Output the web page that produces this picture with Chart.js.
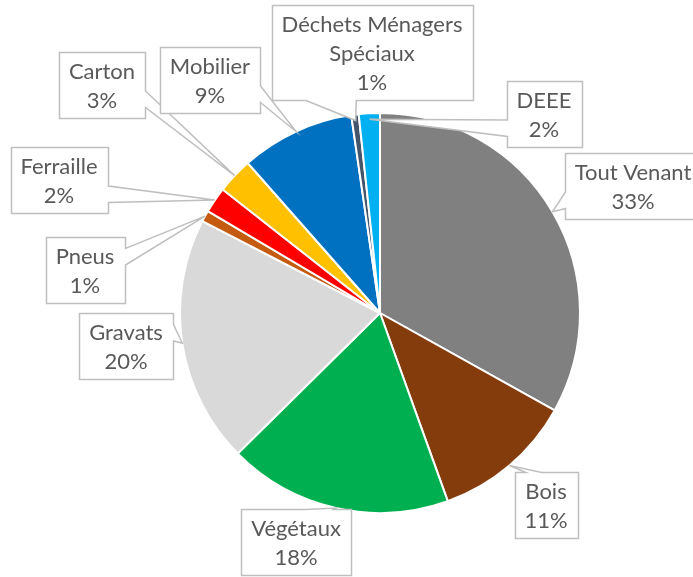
<!DOCTYPE html>
<html>
<head>
<meta charset="utf-8">
<script src="https://cdn.jsdelivr.net/npm/chart.js@4"></script>
<style>
  body { margin: 0; background: #fff; }
</style>
</head>
<body>
<canvas id="pieChart" width="693" height="577"></canvas>
<script>
var categories = ['Tout Venant', 'Bois', 'Végétaux', 'Gravats', 'Pneus', 'Ferraille', 'Carton', 'Mobilier', 'Déchets Ménagers Spéciaux', 'DEEE'];
var shares = [33.1, 11.4, 18.1, 20.0, 0.9, 2.1, 2.9, 9.2, 0.6, 1.7];
var sliceColors = ['#808080', '#843c0c', '#00b050', '#d9d9d9', '#c55a11', '#ff0000', '#ffc000', '#0070c0', '#44546a', '#00b0f0'];

// where each callout box sits (centre, px) and how far in its pointer reaches
var boxCenters = [[633, 186], [546, 505], [296, 542], [126, 346], [85, 270], [59, 180], [102, 85], [210, 80], [372, 52], [544, 114]];
var tipScale = [1.0, 1.0, 1.0, 1.0, 1.0, 1.0, 1.0, 1.0, 0.97, 0.97];

var FONT_SIZE = 22;
var LINE_H = 29;
var PAD_X = 10;
var PAD_Y = 4;

function wrapText(ctx, text, maxW) {
    var words = text.split(' ');
    var lines = [];
    var cur = '';
    words.forEach(function (w) {
        var test = cur ? cur + ' ' + w : w;
        if (cur && ctx.measureText(test).width > maxW) {
            lines.push(cur);
            cur = w;
        } else {
            cur = test;
        }
    });
    if (cur) lines.push(cur);
    return lines;
}

// rectangle with a wedge pointing at (px, py), same rules as the Office wedgeRectCallout
function calloutPath(ctx, l, t, w, h, px, py) {
    var r = l + w, b = t + h;
    var dxPos = px - (l + w / 2);
    var dyPos = py - (t + h / 2);
    var dz = Math.abs(dyPos) - Math.abs(dxPos * h / w);
    var x1 = l + w * (dxPos > 0 ? 7 : 2) / 12;
    var x2 = l + w * (dxPos > 0 ? 10 : 5) / 12;
    var y1 = t + h * (dyPos > 0 ? 7 : 2) / 12;
    var y2 = t + h * (dyPos > 0 ? 10 : 5) / 12;
    ctx.beginPath();
    ctx.moveTo(l, t);
    ctx.lineTo(x1, t);
    if (dz > 0 && dyPos < 0) ctx.lineTo(px, py);
    ctx.lineTo(x2, t);
    ctx.lineTo(r, t);
    ctx.lineTo(r, y1);
    if (dz <= 0 && dxPos > 0) ctx.lineTo(px, py);
    ctx.lineTo(r, y2);
    ctx.lineTo(r, b);
    ctx.lineTo(x2, b);
    if (dz > 0 && dyPos > 0) ctx.lineTo(px, py);
    ctx.lineTo(x1, b);
    ctx.lineTo(l, b);
    ctx.lineTo(l, y2);
    if (dz <= 0 && dxPos < 0) ctx.lineTo(px, py);
    ctx.lineTo(l, y1);
    ctx.closePath();
}

var calloutPlugin = {
    id: 'callouts',
    afterDatasetsDraw: function (chart) {
        var ctx = chart.ctx;
        var meta = chart.getDatasetMeta(0);
        var data = chart.data.datasets[0].data;
        var total = data.reduce(function (a, b) { return a + b; }, 0);
        ctx.save();
        ctx.font = FONT_SIZE + 'px Lato';
        meta.data.forEach(function (arc, i) {
            var p = arc.getProps(['x', 'y', 'startAngle', 'endAngle', 'outerRadius'], true);
            var mid = (p.startAngle + p.endAngle) / 2;
            var tipR = p.outerRadius * tipScale[i];
            var tx = p.x + Math.cos(mid) * tipR;
            var ty = p.y + Math.sin(mid) * tipR;

            var lines = wrapText(ctx, chart.data.labels[i], 200);
            lines.push(Math.round(data[i] / total * 100) + '%');
            var textW = Math.max.apply(null, lines.map(function (s) { return ctx.measureText(s).width; }));
            var w = Math.round(textW + 2 * PAD_X);
            var h = lines.length * LINE_H + 2 * PAD_Y;
            var l = Math.round(boxCenters[i][0] - w / 2) + 0.5;
            var t = Math.round(boxCenters[i][1] - h / 2) + 0.5;

            calloutPath(ctx, l, t, w, h, tx, ty);
            ctx.fillStyle = '#ffffff';
            ctx.fill();
            ctx.lineWidth = 1.5;
            ctx.strokeStyle = '#bfbfbf';
            ctx.lineJoin = 'miter';
            ctx.stroke();

            ctx.fillStyle = '#595959';
            ctx.textAlign = 'center';
            ctx.textBaseline = 'middle';
            lines.forEach(function (s, k) {
                ctx.fillText(s, boxCenters[i][0], t + PAD_Y + LINE_H * (k + 0.5) + 1);
            });
        });
        ctx.restore();
    }
};

var pieCtx = document.getElementById('pieChart').getContext('2d');

new Chart(pieCtx, {
    type: 'pie',
    data: {
        labels: categories,
        datasets: [{
            data: shares,
            backgroundColor: sliceColors,
            borderColor: '#ffffff',
            borderWidth: 2
        }]
    },
    options: {
        responsive: false,
        animation: false,
        radius: 200,
        layout: {
            padding: { left: 180, right: 113, top: 113, bottom: 64 }
        },
        plugins: {
            legend: { display: false },
            tooltip: { enabled: false }
        }
    },
    plugins: [calloutPlugin]
});
</script>
</body>
</html>
